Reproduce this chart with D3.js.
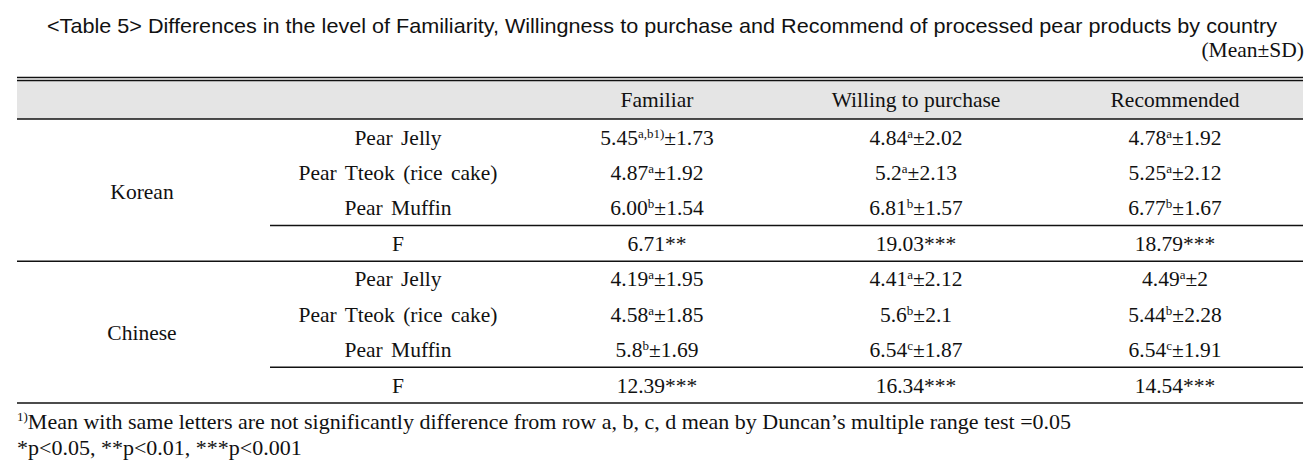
<!DOCTYPE html>
<html><head><meta charset="utf-8">
<script src="https://cdn.jsdelivr.net/npm/d3@7"></script>
<style>html,body{margin:0;padding:0;background:#fff;}</style>
</head><body>
<script>
const titleText = "<Table 5> Differences in the level of Familiarity, Willingness to purchase and Recommend of processed pear products by country";
const unitText = "(Mean\u00B1SD)";
const countries = ["Korean", "Chinese"];
const products = ["Pear Jelly", "Pear Tteok (rice cake)", "Pear Muffin"];
const measures = ["Familiar", "Willing to purchase", "Recommended"];
const koreanMeans = [["5.45","4.84","4.78"],["4.87","5.2","5.25"],["6.00","6.81","6.77"]];
const koreanLetters = [["a,b1)","a","a"],["a","a","a"],["b","b","b"]];
const koreanSD = [["1.73","2.02","1.92"],["1.92","2.13","2.12"],["1.54","1.57","1.67"]];
const koreanF = ["6.71**","19.03***","18.79***"];
const chineseMeans = [["4.19","4.41","4.49"],["4.58","5.6","5.44"],["5.8","6.54","6.54"]];
const chineseLetters = [["a","a","a"],["a","b","b"],["b","c","c"]];
const chineseSD = [["1.95","2.12","2"],["1.85","2.1","2.28"],["1.69","1.87","1.91"]];
const chineseF = ["12.39***","16.34***","14.54***"];
const footnote1Sup = "1)";
const footnote1 = "Mean with same letters are not significantly difference from row a, b, c, d mean by Duncan\u2019s multiple range test =0.05";
const footnote2 = "*p<0.05, **p<0.01, ***p<0.001";

const W = 1313, H = 472;
const svg = d3.select("body").append("svg").attr("width", W).attr("height", H);
const serif = "'Liberation Serif','Times New Roman',serif";
const ink = "#111";
const L = 17, R = 1303;
const FS = 21.5, SUP = 13;

// title
svg.append("text").attr("x", 662).attr("y", 33).attr("text-anchor", "middle")
  .attr("font-family", "'Liberation Sans Narrow','Arial Narrow','Liberation Sans',sans-serif")
  .attr("font-size", 21).attr("fill", ink)
  .attr("textLength", 1230).attr("lengthAdjust", "spacingAndGlyphs")
  .text(titleText);
svg.append("text").attr("x", R + 1).attr("y", 57).attr("text-anchor", "end")
  .attr("font-family", serif).attr("font-size", 21.5).attr("fill", ink).text(unitText);

// header band
svg.append("rect").attr("x", L).attr("y", 80).attr("width", R - L).attr("height", 39).attr("fill", "#e5e5e5");
function hline(x1, x2, y, w) {
  svg.append("line").attr("x1", x1).attr("x2", x2).attr("y1", y).attr("y2", y)
    .attr("stroke", ink).attr("stroke-width", w || 1.4);
}
hline(L, R, 77.5); hline(L, R, 80.5); hline(L, R, 119);

const x = d3.scalePoint().domain(measures).range([657, 1175]);
const y = d3.scaleLinear().domain([0, 7]).range([137, 385]);
const base = 7.5;

svg.selectAll("text.hdr").data(measures).join("text").attr("class", "hdr")
  .attr("x", d => x(d)).attr("y", 107).attr("text-anchor", "middle")
  .attr("font-family", serif).attr("font-size", FS).attr("fill", ink).text(d => d);

const groups = [
  {name: countries[0], means: koreanMeans, letters: koreanLetters, sd: koreanSD, F: koreanF, start: 0},
  {name: countries[1], means: chineseMeans, letters: chineseLetters, sd: chineseSD, F: chineseF, start: 4}
];

groups.forEach(g => {
  const yMid = (y(g.start + 1) + y(g.start + 2)) / 2 + 1;
  svg.append("text").attr("x", 142).attr("y", yMid + base).attr("text-anchor", "middle")
    .attr("font-family", serif).attr("font-size", FS).attr("fill", ink).text(g.name);
  products.forEach((p, i) => {
    const yy = y(g.start + i) + base;
    svg.append("text").attr("x", 398).attr("y", yy).attr("text-anchor", "middle")
      .attr("font-family", serif).attr("font-size", FS).attr("fill", ink)
      .attr("word-spacing", 3).text(p);
    measures.forEach((m, j) => {
      const t = svg.append("text").attr("x", x(m)).attr("y", yy).attr("text-anchor", "middle")
        .attr("font-family", serif).attr("font-size", FS).attr("fill", ink);
      t.append("tspan").text(g.means[i][j]);
      t.append("tspan").attr("font-size", SUP).attr("dy", -7).text(g.letters[i][j]);
      t.append("tspan").attr("dy", 7).text("\u00B1" + g.sd[i][j]);
    });
  });
  const yF = y(g.start + 3) + base;
  svg.append("text").attr("x", 398).attr("y", yF).attr("text-anchor", "middle")
    .attr("font-family", serif).attr("font-size", FS).attr("fill", ink).text("F");
  measures.forEach((m, j) => {
    svg.append("text").attr("x", x(m)).attr("y", yF).attr("text-anchor", "middle")
      .attr("font-family", serif).attr("font-size", FS).attr("fill", ink).text(g.F[j]);
  });
  const yPart = (y(g.start + 2) + y(g.start + 3)) / 2;
  hline(270, R, yPart);
  const yFull = y(g.start + 3) + 18;
  hline(L, R, yFull);
});

const f1 = svg.append("text").attr("x", L).attr("y", 429)
  .attr("font-family", serif).attr("font-size", 22).attr("fill", ink);
f1.append("tspan").attr("font-size", 13).attr("dy", -8).text(footnote1Sup);
f1.append("tspan").attr("dy", 8).text(footnote1);
svg.append("text").attr("x", L).attr("y", 455)
  .attr("font-family", serif).attr("font-size", 22).attr("fill", ink).text(footnote2);
</script>
</body></html>
